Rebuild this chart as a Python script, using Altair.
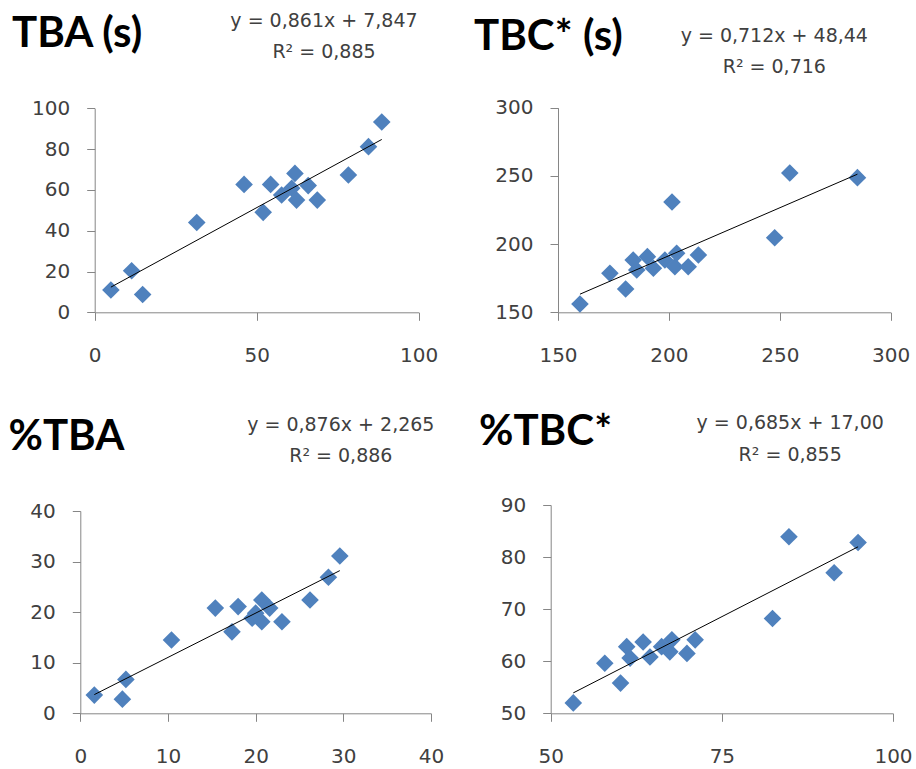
import altair as alt
import pandas as pd

# ---------------- data ----------------
titles = ["TBA (s)", "TBC* (s)", "%TBA", "%TBC*"]
eq_lines = ["y = 0,861x + 7,847", "y = 0,712x + 48,44", "y = 0,876x + 2,265", "y = 0,685x + 17,00"]
r2_lines = ["R² = 0,885", "R² = 0,716", "R² = 0,886", "R² = 0,855"]

tba_x = [5.0, 11.4, 14.8, 31.5, 46.1, 52.0, 54.3, 57.7, 60.8, 61.8, 62.3, 65.9, 68.7, 78.3, 84.5, 88.6]
tba_y = [10.9, 20.4, 8.7, 44.0, 62.7, 49.0, 62.7, 57.5, 60.8, 68.1, 55.0, 62.1, 55.0, 67.3, 81.2, 93.3]

tbc_x = [159.9, 173.4, 180.5, 183.9, 185.5, 190.3, 193.0, 198.2, 201.4, 202.7, 203.5, 208.7, 213.3, 247.7, 254.5, 285.0]
tbc_y = [156.1, 178.6, 167.1, 188.3, 181.0, 190.8, 182.3, 188.3, 230.9, 183.4, 193.3, 183.4, 192.0, 204.7, 252.1, 248.7]

ptba_x = [1.6, 4.8, 5.2, 10.4, 15.4, 17.3, 18.0, 19.6, 20.0, 20.7, 20.7, 21.6, 23.0, 26.2, 28.3, 29.6]
ptba_y = [3.6, 2.8, 6.7, 14.5, 20.8, 16.1, 21.1, 18.8, 19.8, 22.4, 18.1, 20.8, 18.1, 22.4, 26.9, 31.1]

ptbc_x = [53.3, 57.9, 60.2, 61.1, 61.6, 63.5, 64.5, 66.2, 67.4, 67.7, 69.9, 71.1, 82.4, 84.8, 91.4, 94.9]
ptbc_y = [52.0, 59.6, 55.8, 62.8, 60.6, 63.7, 60.8, 62.8, 61.8, 64.1, 61.5, 64.1, 68.2, 83.9, 77.0, 82.8]

x_values = [tba_x, tbc_x, ptba_x, ptbc_x]
y_values = [tba_y, tbc_y, ptba_y, ptbc_y]

x_domains = [[0, 100], [150, 300], [0, 40], [50, 100]]
y_domains = [[0, 100], [150, 300], [0, 40], [50, 90]]
x_ticks = [[0, 50, 100], [150, 200, 250, 300], [0, 10, 20, 30, 40], [50, 75, 100]]
y_ticks = [[0, 20, 40, 60, 80, 100], [150, 200, 250, 300], [0, 10, 20, 30, 40], [50, 60, 70, 80, 90]]

# ---------------- layout / style (pixels inside each cell) ----------------
CELL_W = 458
cell_h = [385, 385, 384, 384]
x_ranges = [[94.7, 418.7], [100.0, 432.7], [80.3, 431.0], [92.7, 435.0]]
y_ranges = [[312.3, 108.3], [312.3, 107.7], [328.3, 126.0], [328.3, 120.0]]
title_pos = [(12, 46.7), (16, 50), (8.5, 65), (21, 60)]
eq_pos = [(324, 27.3, 58.3), (316.3, 42.3, 73.3), (340.8, 46.0, 76.7), (332.2, 44.3, 76.0)]

BLUE = "#4F81BD"
TXT = "#404040"


def panel(i):
    df = pd.DataFrame({"x": x_values[i], "y": y_values[i]})
    H = cell_h[i]
    xr, yr = x_ranges[i], y_ranges[i]
    xsc = alt.Scale(domain=x_domains[i], range=xr, nice=False, zero=False)
    ysc = alt.Scale(domain=y_domains[i], range=yr, nice=False, zero=False)
    xax = alt.Axis(values=x_ticks[i], offset=-(H - yr[0]), format="d", title=None,
                   grid=False, labelPadding=25)
    yax = alt.Axis(values=y_ticks[i], offset=-xr[0], format="d", title=None,
                   grid=False, labelPadding=17)

    base = alt.Chart(df)
    pts = base.mark_point(shape="diamond", filled=True, size=310, color=BLUE, opacity=1).encode(
        x=alt.X("x:Q", scale=xsc, axis=xax),
        y=alt.Y("y:Q", scale=ysc, axis=yax),
    )
    trend = base.transform_regression("x", "y").mark_line(color="black", strokeWidth=1).encode(
        x=alt.X("x:Q", scale=xsc, axis=xax),
        y=alt.Y("y:Q", scale=ysc, axis=yax),
    )

    tdf = pd.DataFrame({"t": [titles[i]], "e": [eq_lines[i]], "r": [r2_lines[i]]})
    tx, ty = title_pos[i]
    ex, ey1, ey2 = eq_pos[i]
    tchart = alt.Chart(tdf)
    title = tchart.mark_text(align="left", baseline="alphabetic", font="Lato", fontWeight="bold",
                             fontSize=42, color="black").encode(
        x=alt.value(tx), y=alt.value(ty), text="t:N")
    eq1 = tchart.mark_text(align="center", baseline="alphabetic", font="DejaVu Sans",
                           fontSize=19, color=TXT).encode(
        x=alt.value(ex), y=alt.value(ey1), text="e:N")
    eq2 = tchart.mark_text(align="center", baseline="alphabetic", font="DejaVu Sans",
                           fontSize=19, color=TXT).encode(
        x=alt.value(ex), y=alt.value(ey2), text="r:N")

    return alt.layer(pts, trend, title, eq1, eq2).properties(width=CELL_W, height=H)


chart = alt.concat(*[panel(i) for i in range(4)], columns=2, spacing=0, bounds="flush").properties(
    padding=0, background="white"
).configure_view(strokeWidth=0).configure_axis(
    labelFont="DejaVu Sans", labelFontSize=20, labelColor=TXT,
    domainColor="#868686", tickColor="#868686", tickSize=8, domainWidth=1, tickWidth=1,
    labelFlush=False, labelOverlap=False,
)

chart.save("out.html", embed_options={"renderer": "svg", "actions": False})
